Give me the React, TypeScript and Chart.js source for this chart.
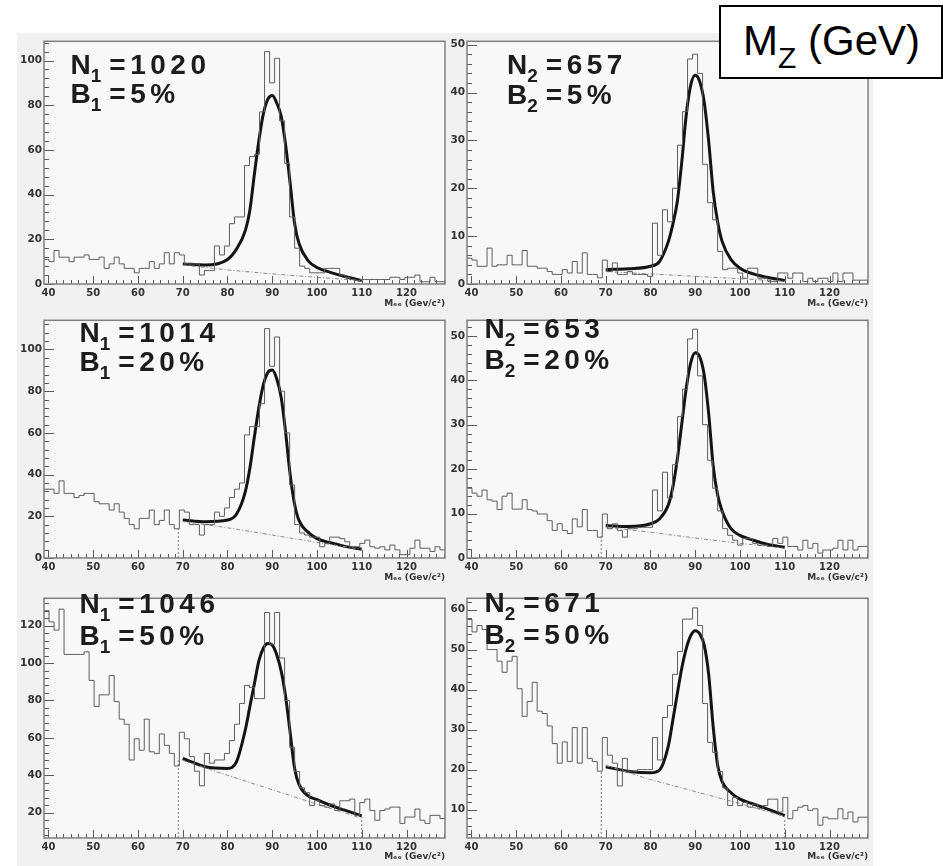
import React, { useEffect, useRef } from "react";
import { Chart, registerables } from "chart.js";

Chart.register(...registerables);

// ---------------- data ----------------
const BIN_LOW = 39;
const BIN_WIDTH = 1.12;
const X_MIN = 39;
const X_MAX = 128.6;
const xTickValues = [40, 50, 60, 70, 80, 90, 100, 110, 120];

const histA = [11, 10, 15, 12, 12, 10, 12, 12, 13, 11,
  11, 12, 7, 9, 12, 9, 7, 7, 5, 7,
  7, 10, 7, 9, 14, 9, 14, 13, 9, 9,
  9, 4, 6, 6, 17, 13, 17, 27, 30, 30,
  53, 57, 58, 77, 104, 90, 101, 73, 54, 30,
  16, 8, 7, 5, 5, 5, 7, 7, 7, 4,
  3, 2, 1.5, 2, 2, 2, 2, 2, 2, 3,
  3, 2, 3, 3, 4, 1, 1, 3, 1, 1];

const histB = [5.4, 5, 3.7, 3.7, 7.5, 3.7, 4, 4, 6, 4,
  4, 7, 3.7, 3.7, 3.3, 3.3, 2.6, 2, 2, 3,
  2.3, 4.7, 2.3, 6.5, 2, 2, 1.3, 5, 2.6, 4.4,
  2, 2, 2.6, 2, 2, 2, 1.6, 12.7, 6, 15.5,
  13, 20, 29, 36, 47, 48, 44, 25, 17, 13.4,
  6.8, 3, 3.3, 3.3, 2.3, 1.2, 3.3, 3.3, 1.2, 1.2,
  0.5, 0.5, 2.3, 2.3, 1.2, 2.3, 2.3, 0.5, 1.2, 0.5,
  1.2, 1.2, 0.5, 2.3, 0.5, 2.3, 2.3, 0.8, 0.8, 0.8];

const histC = [33, 33, 31, 37, 31, 31, 29, 30, 31, 31,
  27, 26, 26, 23, 26, 22, 19, 16, 14, 19,
  19, 23, 16, 18, 23, 16, 14, 23, 22, 16,
  16, 11, 16, 16, 22, 20, 24, 29, 33, 36,
  59, 63, 63, 74, 110, 92, 106, 80, 60, 35,
  16, 12, 11, 10, 10, 5.4, 7, 10, 10, 9.3,
  7.8, 5.4, 5.4, 7, 8.6, 5.4, 4.7, 5.4, 3.9, 6.2,
  3.9, 1.6, 1.6, 4.7, 8.6, 4.7, 4.7, 3.1, 5.4, 3.9];

const histD = [15.7, 14.6, 13.9, 15.3, 13.1, 12.8, 10.9, 13.9, 14.6, 11,
  11, 13.1, 10.9, 10.6, 9.9, 9.9, 8.4, 6.2, 7.7, 6.2,
  5.5, 8.8, 7, 10.9, 6.2, 6.2, 4.7, 9.9, 6.6, 7.7,
  6.2, 4.7, 6.6, 6.6, 6.9, 6.9, 6.9, 15.3, 10.6, 19.3,
  13.5, 21, 31.8, 38, 49.3, 51.5, 41, 30, 22, 15.7,
  10.6, 6.6, 5.1, 4, 2.9, 4.4, 4.4, 3.3, 2.9, 2.9,
  2.6, 4.4, 3.3, 4.7, 2.6, 2.6, 1.8, 4, 2.2, 3.3,
  1.1, 1.8, 1.8, 2.2, 4, 1.8, 4, 1.8, 2.6, 2.6];

const histE = [128, 122, 117.6, 128.8, 104.6, 104.6, 104.6, 104.6, 106, 90.7,
  76.8, 83, 83, 93.3, 79.4, 70, 67.3, 48.2, 59.5, 53.4,
  70, 52.6, 51.7, 62.1, 56, 51.7, 45, 63, 59.5, 50,
  42.2, 34.4, 51.7, 46.5, 48.2, 48.2, 51.7, 58.6, 67.3, 78.4,
  88, 87, 81, 81, 127, 110, 127, 102.7, 80, 55,
  42, 33.3, 30.7, 23.8, 26.4, 23.8, 23, 24.7, 21.2, 26.4,
  26.4, 27.3, 18.6, 25.5, 27.3, 21.2, 16, 21.2, 22, 23,
  23, 14.3, 17.7, 17.7, 22, 16, 14.3, 18.6, 18.6, 16.9];

const histF = [57.5, 54.4, 56, 55, 50, 50, 47.1, 44.3, 47.1, 48.3,
  40.2, 33.3, 37, 41.8, 34.6, 34, 30.9, 26.5, 21.6, 26.9,
  22, 30.5, 21.6, 30.5, 22.8, 22, 19.6, 28, 23.6, 21.6,
  15.9, 22.8, 19.6, 19.6, 20, 20, 20, 28, 22.4, 33,
  36, 43.8, 49.5, 57.6, 57.6, 60.4, 56, 36.5, 26.8, 24.3,
  19.5, 15.4, 11, 13, 11, 11.8, 10.6, 11.4, 10.2, 11,
  12.6, 12.6, 9.4, 13, 7.7, 9.8, 10.6, 11, 9.8, 10.2,
  6.1, 8.1, 7.7, 7.7, 10.2, 7.7, 9.4, 6.9, 8.1, 8.1];

// fit curves (at these masses)
const fitX = [70, 75, 80, 82, 84, 85, 86, 87, 88, 89, 90, 91, 92, 93, 94, 95, 96, 98, 100, 103, 106, 110];
const fitA = [9, 8.5, 11, 15.6, 24, 33, 49, 64, 76, 82.6, 84.3, 81, 75, 62, 45, 27, 18, 10.5, 7.4, 5.2, 3.5, 1.5];
const fitB = [3, 3.2, 3.7, 4.7, 8.9, 12.5, 17.3, 25.6, 35.4, 41.6, 43.6, 42.3, 38, 29.8, 19.4, 13, 8.9, 5.1, 3.3, 2.1, 1.4, 0.7];
const fitC = [18.2, 17.4, 18.2, 21, 32, 43, 58, 72, 83, 89, 90.2, 86, 77, 60, 40, 25.7, 17.9, 12.4, 9.3, 7.3, 5.7, 4.2];
const fitD = [7.3, 7.1, 7.7, 8.8, 12, 16, 22.3, 30.3, 38.3, 44, 46.2, 45.3, 41.2, 32.5, 20.8, 14.2, 10.6, 6.6, 5.1, 4, 3.1, 2.4];
const fitE = [49, 44.6, 43.7, 47.2, 64.5, 76.7, 88.8, 101, 107.9, 110.5, 109.6, 104.4, 95.7, 81.9, 62.8, 43.7, 35, 29, 27, 24, 21.5, 18.3];
const fitF = [20.7, 19.6, 19.2, 19.9, 26, 32.4, 39, 45.4, 50.3, 53.5, 54.7, 53.9, 51.1, 43.8, 30.8, 21.1, 17, 14.2, 12.6, 11.4, 10.2, 8.5];

// background component of the fit
const bgX = [70, 80, 90, 100, 110];
const bgA = [8.5, 6.3, 4.5, 3.0, 1.5];
const bgB = [2.6, 2.1, 1.6, 1.1, 0.6];
const bgC = [17.5, 14.5, 11, 7.5, 4.2];
const bgD = [7, 5.8, 4.5, 3.3, 2.2];
const bgE = [48, 40, 32.3, 24.6, 17];
const bgF = [21, 17.5, 14.5, 11.5, 8.3];

// fit-range markers: [mass, height]
const markA: number[][] = [];
const markB: number[][] = [];
const markC = [[69, 14]];
const markD = [[69, 5.5]];
const markE = [[69, 48], [110, 17.7]];
const markF = [[69, 19.5], [110, 8]];

const yTicksA = [0, 20, 40, 60, 80, 100];
const yTicksB = [0, 10, 20, 30, 40, 50];
const yTicksC = [0, 20, 40, 60, 80, 100];
const yTicksD = [0, 10, 20, 30, 40, 50];
const yTicksE = [20, 40, 60, 80, 100, 120];
const yTicksF = [10, 20, 30, 40, 50, 60];

const nLabels = ["1020", "657", "1014", "653", "1046", "671"];
const bLabels = ["5%", "5%", "20%", "20%", "50%", "50%"];
const channelSub = ["1", "2", "1", "2", "1", "2"];
const xTitle = "Mₑₑ (Gev/c²)";

// ---------------- layout ----------------
type Panel = {
  hist: number[]; fit: number[]; bg: number[]; marks: number[][];
  yTicks: number[]; yMin: number; yMax: number; yMajor: number;
  cx: number; cy: number; cw: number; ch: number;
  padT: number; padR: number; yW: number; xH: number; titlePad: number;
};

const colL = { cx: 10, cw: 440, padR: 5, yW: 34 };
const colR = { cx: 447, cw: 428, padR: 7, yW: 20 };
const row1 = { cy: 33, ch: 279, padT: 7, xH: 28, titlePad: 3 };
const row2 = { cy: 312, ch: 278, padT: 2, xH: 32, titlePad: 6.5 };
const row3 = { cy: 590, ch: 276, padT: 2, xH: 28, titlePad: 4 };

const panels: Panel[] = [
  { hist: histA, fit: fitA, bg: bgA, marks: markA, yTicks: yTicksA, yMin: 0, yMax: 108.6, yMajor: 20, ...colL, ...row1 },
  { hist: histB, fit: fitB, bg: bgB, marks: markB, yTicks: yTicksB, yMin: 0, yMax: 50.7, yMajor: 10, ...colR, ...row1 },
  { hist: histC, fit: fitC, bg: bgC, marks: markC, yTicks: yTicksC, yMin: 0, yMax: 114, yMajor: 20, ...colL, ...row2 },
  { hist: histD, fit: fitD, bg: bgD, marks: markD, yTicks: yTicksD, yMin: 0, yMax: 53.5, yMajor: 10, ...colR, ...row2 },
  { hist: histE, fit: fitE, bg: bgE, marks: markE, yTicks: yTicksE, yMin: 6.5, yMax: 134.6, yMajor: 20, ...colL, ...row3 },
  { hist: histF, fit: fitF, bg: bgF, marks: markF, yTicks: yTicksF, yMin: 2.9, yMax: 62.8, yMajor: 10, ...colR, ...row3 },
];

const labelPos = [
  { left: 70.5, top1: 55, top2: 83.5 },
  { left: 507, top1: 55, top2: 85 },
  { left: 79.5, top1: 323, top2: 352 },
  { left: 484.5, top1: 319, top2: 350 },
  { left: 79.5, top1: 594, top2: 626 },
  { left: 484.5, top1: 592.5, top2: 625 },
];

const TICK_FONT = '"DejaVu Sans", sans-serif';

const frameTicks = {
  id: "frameTicks",
  beforeDatasetsDraw(chart: any) {
    const { ctx, chartArea: a } = chart;
    ctx.save();
    ctx.fillStyle = "#f8f8f8";
    ctx.fillRect(a.left, a.top, a.right - a.left, a.bottom - a.top);
    ctx.restore();
  },
  afterDatasetsDraw(chart: any, _args: any, opts: any) {
    const { ctx, chartArea: a, scales } = chart;
    const xs = scales.x;
    const ys = scales.y;
    ctx.save();
    ctx.strokeStyle = "#5a5a5a";
    ctx.lineWidth = 1;
    ctx.beginPath();
    const ySub = 5;
    const yStep = opts.yMajor / ySub;
    for (let k = Math.ceil(ys.min / yStep); k * yStep <= ys.max + 1e-9; k++) {
      const major = k % ySub === 0;
      const py = Math.round(ys.getPixelForValue(k * yStep)) + 0.5;
      ctx.moveTo(a.left, py);
      ctx.lineTo(a.left + (major ? 10 : 5), py);
    }
    const xSub = 6;
    const xStep = 10 / xSub;
    for (let k = Math.ceil(xs.min / xStep); k * xStep <= xs.max + 1e-9; k++) {
      const major = k % xSub === 0;
      const px = Math.round(xs.getPixelForValue(k * xStep)) + 0.5;
      ctx.moveTo(px, a.bottom);
      ctx.lineTo(px, a.bottom - (major ? 8 : 4));
    }
    ctx.stroke();
    ctx.strokeStyle = "#7f7f7f";
    ctx.lineWidth = 1.5;
    ctx.strokeRect(a.left, a.top, a.right - a.left, a.bottom - a.top);
    ctx.restore();
  },
};

function buildConfig(p: Panel): any {
  const histPts = p.hist.map((v, i) => ({ x: BIN_LOW + i * BIN_WIDTH, y: v }));
  histPts.push({ x: BIN_LOW + p.hist.length * BIN_WIDTH, y: p.hist[p.hist.length - 1] });
  const datasets: any[] = [
    {
      // "before": horizontal at each bin's value across [edge_i, edge_i+1]
      data: histPts, stepped: "before", borderColor: "#5e5e5e", borderWidth: 1,
      pointRadius: 0, fill: false,
    },
    {
      data: bgX.map((x, i) => ({ x, y: p.bg[i] })), borderColor: "#8c8c8c", borderWidth: 1,
      borderDash: [4, 2, 1, 2], pointRadius: 0, fill: false,
    },
    {
      data: fitX.map((x, i) => ({ x, y: p.fit[i] })), borderColor: "#141414", borderWidth: 3,
      cubicInterpolationMode: "monotone", pointRadius: 0, fill: false,
    },
  ];
  p.marks.forEach((m) => {
    datasets.push({
      data: [{ x: m[0], y: p.yMin }, { x: m[0], y: m[1] }], borderColor: "#7a7a7a",
      borderWidth: 1, borderDash: [2, 2], pointRadius: 0, fill: false,
    });
  });
  return {
    type: "line",
    data: { datasets },
    plugins: [frameTicks],
    options: {
      animation: false,
      responsive: false,
      maintainAspectRatio: false,
      events: [],
      layout: { padding: { top: p.padT, right: p.padR, left: 0, bottom: 0 } },
      plugins: {
        legend: { display: false },
        tooltip: { enabled: false },
        frameTicks: { yMajor: p.yMajor },
      },
      scales: {
        x: {
          type: "linear", min: X_MIN, max: X_MAX,
          afterBuildTicks: (s: any) => { s.ticks = xTickValues.map((v) => ({ value: v })); },
          afterFit: (s: any) => { s.height = p.xH; },
          grid: { display: false, drawTicks: false },
          border: { display: false },
          ticks: {
            autoSkip: false, maxRotation: 0, padding: 3, color: "#333",
            font: { family: TICK_FONT, size: 10, weight: "bold" },
            callback: (v: any) => String(v),
          },
          title: {
            display: true, text: xTitle, align: "end", color: "#333",
            font: { family: TICK_FONT, size: 9, weight: "bold" },
            padding: { top: 0, bottom: p.titlePad },
          },
        },
        y: {
          type: "linear", min: p.yMin, max: p.yMax,
          afterBuildTicks: (s: any) => { s.ticks = p.yTicks.map((v) => ({ value: v })); },
          afterFit: (s: any) => { s.width = p.yW; },
          grid: { display: false, drawTicks: false },
          border: { display: false },
          ticks: {
            autoSkip: false, padding: 2, color: "#333",
            font: { family: TICK_FONT, size: 10.5, weight: "bold" },
            callback: (v: any) => String(v),
          },
        },
      },
    },
  };
}

function PanelChart({ p }: { p: Panel }) {
  const ref = useRef<HTMLCanvasElement>(null);
  useEffect(() => {
    const chart = new Chart(ref.current as HTMLCanvasElement, buildConfig(p));
    return () => chart.destroy();
  }, [p]);
  return (
    <canvas
      ref={ref}
      width={p.cw}
      height={p.ch}
      style={{ position: "absolute", left: p.cx, top: p.cy, width: p.cw, height: p.ch }}
    />
  );
}

const LABEL_FONT = '"Liberation Sans", Arial, sans-serif';

function TextLine({ left, capTop, letter, sub, rest }: any) {
  return (
    <div
      style={{
        position: "absolute", left, top: capTop - 3.65, font: `bold 28px ${LABEL_FONT}`,
        lineHeight: "28px", whiteSpace: "pre", color: "#1c1c1c",
      }}
    >
      <span>{letter}</span>
      <span style={{ fontSize: 19, position: "relative", top: 8 }}>{sub}</span>
      <span style={{ marginLeft: 8, letterSpacing: 4.5 }}>{rest}</span>
    </div>
  );
}

export default function App() {
  return (
    <div style={{ position: "absolute", left: 0, top: 0, width: 943, height: 866, background: "#ffffff", overflow: "hidden" }}>
      <div style={{ position: "absolute", left: 17, top: 33, width: 856, height: 833, background: "#f1f1f1" }} />
      {panels.map((p, i) => (
        <PanelChart key={i} p={p} />
      ))}
      {labelPos.map((lp, i) => (
        <React.Fragment key={"l" + i}>
          <TextLine left={lp.left} capTop={lp.top1} letter="N" sub={channelSub[i]} rest={"=" + nLabels[i]} />
          <TextLine left={lp.left} capTop={lp.top2} letter="B" sub={channelSub[i]} rest={"=" + bLabels[i]} />
        </React.Fragment>
      ))}
      <div
        style={{
          position: "absolute", left: 719, top: 5, width: 224, height: 74, boxSizing: "border-box",
          border: "2px solid #000", background: "#fff",
        }}
      >
        <div
          style={{
            position: "absolute", left: 22, top: 12.5, font: `42px ${LABEL_FONT}`, lineHeight: "42px",
            whiteSpace: "pre", color: "#000",
          }}
        >
          M<span style={{ fontSize: 30, position: "relative", top: 13 }}>Z</span> (GeV)
        </div>
      </div>
    </div>
  );
}
